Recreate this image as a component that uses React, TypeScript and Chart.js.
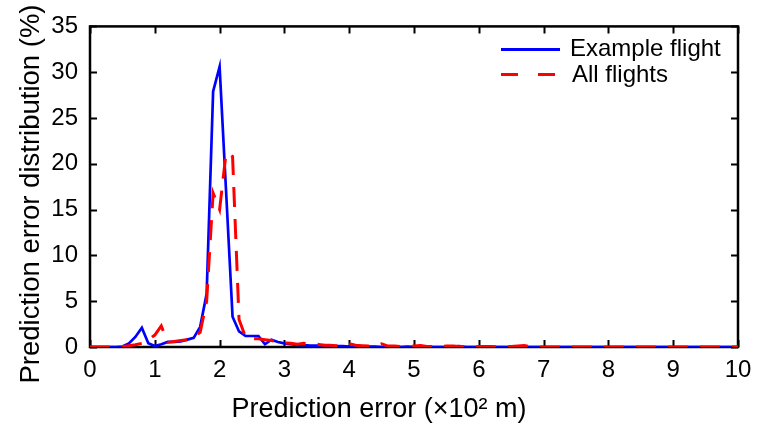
import React, { useEffect, useRef } from "react";
import { Chart, registerables } from "chart.js";

Chart.register(...registerables);

// Prediction error (x10^2 m)
const errorX = [
  0.0, 0.1, 0.2, 0.3, 0.4, 0.5, 0.6, 0.7, 0.8, 0.9,
  1.0, 1.1, 1.2, 1.3, 1.4, 1.5, 1.6, 1.7, 1.8, 1.9,
  2.0, 2.1, 2.2, 2.3, 2.4, 2.5, 2.6, 2.7, 2.8, 2.9,
  3.0, 3.1, 3.2, 3.3, 3.4, 3.5, 3.6, 3.7, 3.8, 3.9,
  4.0, 4.1, 4.2, 4.3, 4.4, 4.5, 4.6, 4.7, 4.8, 4.9,
  5.0, 5.1, 5.2, 5.3, 5.4, 5.5, 5.6, 5.7, 5.8, 5.9,
  6.0, 6.1, 6.2, 6.3, 6.4, 6.5, 6.6, 6.7, 6.8, 6.9,
  7.0, 8.0, 9.0, 10.0,
];

// Prediction error distribution (%) - Example flight
const exampleFlight = [
  0, 0, 0, 0, 0, 0.05, 0.4, 1.1, 2.1, 0.4,
  0.1, 0.3, 0.55, 0.55, 0.6, 0.8, 1.0, 2.2, 5.8, 27.9,
  30.6, 17.0, 3.3, 1.7, 1.2, 1.2, 1.2, 0.3, 0.8, 0.55,
  0.4, 0.3, 0.2, 0.2, 0.15, 0.15, 0.2, 0.1, 0.1, 0.1,
  0.05, 0.05, 0.05, 0.05, 0.05, 0, 0.05, 0, 0, 0.05,
  0, 0, 0.05, 0, 0, 0, 0.05, 0.1, 0, 0,
  0, 0, 0, 0, 0, 0, 0, 0, 0, 0,
  0, 0, 0, 0,
];

// Prediction error distribution (%) - All flights
const allFlights = [
  0, 0, 0, 0, 0, 0.05, 0.15, 0.25, 0.4, 0.8,
  1.3, 2.3, 0.5, 0.6, 0.7, 0.8, 1.1, 1.6, 5.0, 16.8,
  15.0, 21.2, 20.8, 3.0, 1.1, 0.9, 0.9, 0.8, 0.7, 0.55,
  0.45, 0.4, 0.3, 0.4, 0.35, 0.3, 0.2, 0.2, 0.15, 0.15,
  0.35, 0.2, 0.15, 0.1, 0.1, 0.35, 0.1, 0.1, 0.05, 0.05,
  0.1, 0.15, 0.05, 0.05, 0.05, 0.1, 0.1, 0.05, 0.05, 0,
  0.05, 0.05, 0.05, 0, 0, 0.05, 0.1, 0.15, 0.05, 0,
  0, 0, 0, 0,
];

const seriesNames = ["Example flight", "All flights"];
const xTitle = "Prediction error (×10² m)";
const yTitle = "Prediction error distribution (%)";

const FONT = "'Liberation Sans', Arial, Helvetica, sans-serif";

export default function App() {
  const ref = useRef<HTMLCanvasElement>(null);

  useEffect(() => {
    document.body.style.margin = "0";
    const canvas = ref.current!;

    const matlabPlugin = {
      id: "matlabBox",
      beforeDatasetsDraw(chart: any) {
        const { ctx, chartArea: a, scales } = chart;
        ctx.save();
        ctx.strokeStyle = "#000";
        ctx.lineWidth = 2.5;
        ctx.strokeRect(a.left, a.top, a.right - a.left, a.bottom - a.top);
        ctx.lineWidth = 2;
        const tl = 7;
        ctx.beginPath();
        scales.x.ticks.forEach((t: any) => {
          const px = Math.round(scales.x.getPixelForValue(t.value)) + 0.5;
          ctx.moveTo(px, a.bottom);
          ctx.lineTo(px, a.bottom - tl);
          ctx.moveTo(px, a.top);
          ctx.lineTo(px, a.top + tl);
        });
        scales.y.ticks.forEach((t: any) => {
          const py = Math.round(scales.y.getPixelForValue(t.value)) + 0.5;
          ctx.moveTo(a.left, py);
          ctx.lineTo(a.left + tl, py);
          ctx.moveTo(a.right, py);
          ctx.lineTo(a.right - tl, py);
        });
        ctx.stroke();
        ctx.restore();
      },
      afterDraw(chart: any) {
        const { ctx, chartArea: a } = chart;
        ctx.save();
        ctx.fillStyle = "#000";
        // axis titles
        ctx.font = `27px ${FONT}`;
        ctx.textAlign = "center";
        ctx.textBaseline = "middle";
        ctx.fillText(xTitle, 379, 410);
        ctx.font = `27.5px ${FONT}`;
        ctx.translate(31, 194);
        ctx.rotate(-Math.PI / 2);
        ctx.fillText(yTitle, 0, 0);
        ctx.restore();

        // legend
        ctx.save();
        const lx0 = a.right - 237;
        const lx1 = a.right - 178;
        const ys = [a.top + 23, a.top + 48];
        ctx.lineWidth = 3;
        ctx.strokeStyle = "#0000ff";
        ctx.beginPath();
        ctx.moveTo(lx0, ys[0]);
        ctx.lineTo(lx1, ys[0]);
        ctx.stroke();
        ctx.strokeStyle = "#ff0000";
        ctx.setLineDash([17, 20]);
        ctx.beginPath();
        ctx.moveTo(lx0, ys[1]);
        ctx.lineTo(lx1 + 1, ys[1]);
        ctx.stroke();
        ctx.setLineDash([]);
        ctx.fillStyle = "#000";
        ctx.font = `24px ${FONT}`;
        ctx.textAlign = "left";
        ctx.textBaseline = "middle";
        ctx.fillText(seriesNames[0], a.right - 168, ys[0]);
        ctx.fillText(seriesNames[1], a.right - 166, ys[1] + 1);
        ctx.restore();
      },
    };

    const chart = new Chart(canvas, {
      type: "line",
      data: {
        datasets: [
          {
            label: seriesNames[0],
            data: errorX.map((x, i) => ({ x, y: exampleFlight[i] })),
            borderColor: "#0000ff",
            borderWidth: 2.7,
            pointRadius: 0,
            tension: 0,
            fill: false,
            order: 1,
          },
          {
            label: seriesNames[1],
            data: errorX.map((x, i) => ({ x, y: allFlights[i] })),
            borderColor: "#ff0000",
            borderWidth: 3,
            borderDash: [20, 12],
            pointRadius: 0,
            tension: 0,
            fill: false,
            order: 0,
          },
        ],
      },
      options: {
        animation: false,
        responsive: false,
        devicePixelRatio: 1,
        layout: { padding: { left: 0, top: 25, right: 29, bottom: 0 } },
        plugins: {
          legend: { display: false },
          tooltip: { enabled: false },
        },
        scales: {
          x: {
            type: "linear",
            min: 0,
            max: 10,
            grid: { display: false, drawTicks: false },
            border: { display: false },
            ticks: {
              stepSize: 1,
              padding: 9,
              color: "#000",
              font: { family: FONT, size: 24 },
              maxRotation: 0,
            },
            afterFit: (s: any) => {
              s.height = 81;
            },
          },
          y: {
            min: 0,
            max: 35,
            grid: { display: false, drawTicks: false },
            border: { display: false },
            ticks: {
              stepSize: 5,
              padding: 12,
              color: "#000",
              font: { family: FONT, size: 24 },
            },
            afterFit: (s: any) => {
              s.width = 90;
            },
          },
        },
      },
      plugins: [matlabPlugin],
    } as any);

    return () => chart.destroy();
  }, []);

  return (
    <div style={{ width: 767, height: 428, background: "#fff" }}>
      <canvas ref={ref} width={767} height={428} />
    </div>
  );
}
